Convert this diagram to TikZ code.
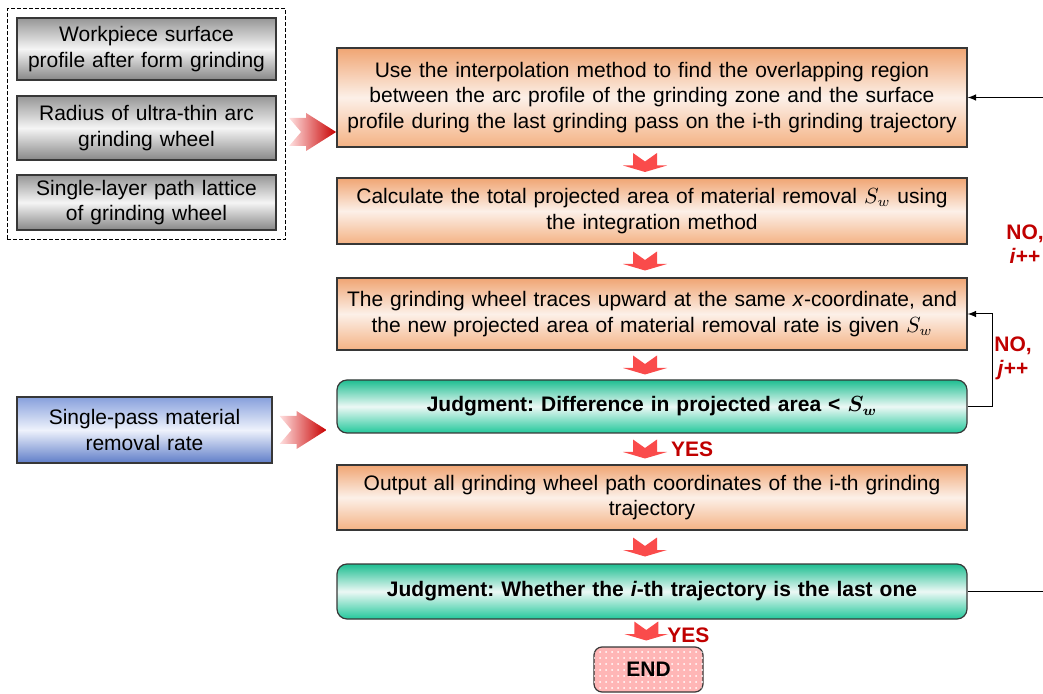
\documentclass[tikz,border=0pt]{standalone}
\usepackage{fontspec}
\setmainfont{Liberation Sans}
\frenchspacing
\usetikzlibrary{positioning}
\usetikzlibrary{calc}
\usetikzlibrary{fit}
\usetikzlibrary{patterns}
\definecolor{boxline}{RGB}{55,55,55}
\definecolor{orangetop}{RGB}{240,165,115}
\definecolor{orangemid}{RGB}{252,240,232}
\definecolor{orangebot}{RGB}{244,178,132}
\definecolor{tealtop}{RGB}{30,190,145}
\definecolor{tealmid}{RGB}{236,248,245}
\definecolor{tealbot}{RGB}{35,200,155}
\definecolor{bluetop}{RGB}{135,160,220}
\definecolor{bluemid}{RGB}{238,242,252}
\definecolor{bluebot}{RGB}{95,125,200}
\definecolor{graytop}{RGB}{150,150,150}
\definecolor{graymid}{RGB}{245,245,245}
\definecolor{graybot}{RGB}{135,135,135}
\definecolor{endpink}{RGB}{255,182,182}
\definecolor{flowred}{RGB}{250,75,75}
\definecolor{darkred}{RGB}{200,0,0}
\definecolor{labelred}{RGB}{192,0,0}
\tikzset{>=latex}
\tikzset{every node/.style={font=\fontsize{10.5}{12.8}\selectfont}}
\tikzset{inputbox/.style={rectangle, draw=boxline, line width=0.6pt, top color=graytop, bottom color=graybot, middle color=graymid, minimum width=129.5pt, text width=125pt, align=center, inner sep=2pt}}
\tikzset{ratebox/.style={rectangle, draw=boxline, line width=0.6pt, top color=bluetop, bottom color=bluebot, middle color=bluemid, minimum width=127.5pt, text width=123pt, align=center, inner sep=2pt}}
\tikzset{stepbox/.style={rectangle, draw=boxline, line width=0.6pt, top color=orangetop, bottom color=orangebot, middle color=orangemid, minimum width=315pt, text width=305pt, align=center, inner sep=2pt}}
\tikzset{judgebox/.style={rectangle, rounded corners=5pt, draw=boxline, line width=0.6pt, top color=tealtop, bottom color=tealbot, middle color=tealmid, minimum width=315pt, text width=305pt, align=center, inner sep=2pt, font=\fontsize{10.5}{12.8}\selectfont\bfseries}}
\tikzset{endbox/.style={rectangle, rounded corners=4pt, draw=boxline, line width=0.6pt, fill=endpink, postaction={pattern=dots, pattern color=white}, minimum width=54.5pt, minimum height=22.5pt, font=\fontsize{10.5}{12.8}\selectfont\bfseries}}
\tikzset{yeslabel/.style={text=labelred, font=\fontsize{10.5}{12.8}\selectfont\bfseries}}
\tikzset{nolabel/.style={text=labelred, align=center, font=\fontsize{10.5}{12}\selectfont\bfseries}}
\tikzset{downarrow/.pic={
    \fill [flowred] (-12,-9.5) -- (0,-1) -- (12,-9.5) -- (12,3) -- (22,3) -- (0,9.5) -- (-22,3) -- (-12,3) -- cycle;
}}
\tikzset{bigarrow/.pic={
    \shade [left color=red!12!white, right color=darkred] (-23,-14) -- (-6,-14) -- (-6,-19) -- (24,0) -- (-6,19) -- (-6,14) -- (-23,14) -- (-11,0) -- cycle;
}}

\begin{document}
\begin{tikzpicture}[x=0.5pt, y=-0.5pt]

    \useasboundingbox (0,0) rectangle (1043,694);

    % Input data.
    \node [inputbox, minimum height=31pt] (profile) at (146.5,49) {Workpiece surface\\profile after form grinding};
    \node [inputbox, minimum height=32pt] (radius) at (146.5,128) {Radius of ultra-thin arc\\grinding wheel};
    \node [inputbox, minimum height=27.5pt] (lattice) at (146.5,202.5) {Single-layer path lattice\\of grinding wheel};
    \node (inputs) [draw=black, line width=0.5pt, dash pattern=on 2pt off 1pt, inner sep=4.5pt, fit={(profile) (radius) (lattice)}] {};
    \node [ratebox, minimum height=33pt] (rate) at (144.5,430) {Single-pass material\\removal rate};

    % Main flow.
    \node [stepbox, minimum height=49.5pt] (interp) at (652,97.5) {Use the interpolation method to find the overlapping region\\between the arc profile of the grinding zone and the surface\\profile during the last grinding pass on the i-th grinding trajectory};
    \node [stepbox, minimum height=33pt] (area) at (652,211) {Calculate the total projected area of material removal $S_w$ using\\the integration method};
    \node [stepbox, minimum height=36pt] (trace) at (652,314) {The grinding wheel traces upward at the same \textit{x}-coordinate, and\\the new projected area of material removal rate is given $S_w$};
    \node [judgebox, minimum height=26.5pt] (judgej) at (652,406.5) {Judgment: Difference in projected area < {\boldmath$S_w$}};
    \node [stepbox, minimum height=32.5pt] (output) at (652,497.5) {Output all grinding wheel path coordinates of the i-th grinding\\trajectory};
    \node [judgebox, minimum height=27.5pt] (judgei) at (652,591.5) {Judgment: Whether the \textit{i}-th trajectory is the last one};
    \node [endbox] (finish) at (648.5,669.5) {END};

    % Flow arrows.
    \pic at ($(interp.south)!0.5!(area.north) + (-7,0)$) {downarrow};
    \pic at ($(area.south)!0.5!(trace.north) + (-7,0)$) {downarrow};
    \pic at ($(trace.south)!0.5!(judgej.north) + (-7,0)$) {downarrow};
    \pic at ($(judgej.south)!0.5!(output.north) + (-7,0)$) {downarrow};
    \pic at ($(output.south)!0.5!(judgei.north) + (-7,0)$) {downarrow};
    \pic at ($(judgei.south)!0.5!(finish.north) + (-4,-2)$) {downarrow};
    \node [yeslabel] (yes1) at ($(judgej.south)!0.5!(output.north) + (40,0)$) {YES};
    \node [yeslabel] (yes2) at ($(judgei.south)!0.5!(finish.north) + (38,2)$) {YES};

    % Input arrows.
    \pic at ($(inputs.east) + (26,8)$) {bigarrow};
    \pic at ($(rate.east) + (30,0)$) {bigarrow};

    % Loops.
    \coordinate (iturn) at (1048,0);
    \draw [->, line width=0.5pt] (judgej.east) -- ++(25,0) |- (trace.east);
    \draw [->, line width=0.5pt] (judgei.east) -- (judgei.east -| iturn) |- (interp.east);
    \node [nolabel] (noj) at (1013,358) {NO,\\\textit{j}++};
    \node [nolabel] (noi) at (1025,244) {NO,\\\textit{i}++};

\end{tikzpicture}
\end{document}
